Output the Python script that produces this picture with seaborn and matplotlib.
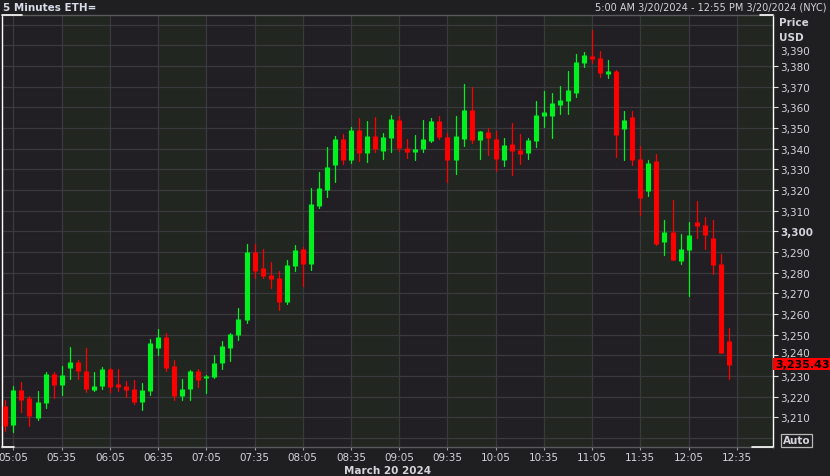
import numpy as np
import pandas as pd
import matplotlib
matplotlib.use("Agg")
import matplotlib.pyplot as plt
import matplotlib.transforms as mtransforms
import seaborn as sns
from matplotlib.patches import Rectangle
from matplotlib.lines import Line2D

# ---- data (5-minute candles, 05:00 .. 12:30) ----
opens = [3215.5, 3206.4, 3223.2, 3219.4, 3209.8, 3217.0, 3230.9, 3225.8, 3233.6, 3236.7,
         3232.4, 3223.3, 3225.2, 3233.4, 3226.1, 3225.2, 3223.7, 3217.6, 3222.9, 3243.7,
         3248.9, 3234.9, 3220.5, 3223.7, 3232.4, 3229.0, 3229.5, 3236.3, 3243.5, 3249.8,
         3257.1, 3290.0, 3282.2, 3278.9, 3277.4, 3265.8, 3283.2, 3291.5, 3284.2, 3312.3,
         3320.0, 3332.2, 3344.7, 3334.5, 3349.1, 3337.9, 3346.1, 3338.8, 3345.1, 3353.9,
         3340.3, 3338.4, 3339.8, 3343.7, 3353.4, 3345.6, 3334.5, 3344.7, 3358.7, 3344.2,
         3348.1, 3344.7, 3334.5, 3342.3, 3339.3, 3337.9, 3343.7, 3355.8, 3355.8, 3361.1,
         3363.1, 3366.9, 3381.6, 3384.9, 3383.9, 3376.2, 3377.5, 3349.7, 3355.5, 3335.0,
         3319.6, 3334.0, 3295.0, 3299.6, 3285.7, 3291.1, 3304.5, 3303.1, 3296.8, 3284.2,
         3246.9]
highs = [3218.5, 3225.3, 3227.3, 3220.2, 3222.5, 3231.9, 3231.9, 3234.9, 3244.0, 3237.7,
         3243.5, 3231.9, 3234.4, 3233.9, 3233.4, 3227.6, 3228.1, 3226.6, 3247.9, 3252.8,
         3250.8, 3237.7, 3228.6, 3232.8, 3233.4, 3230.5, 3240.2, 3247.0, 3251.0, 3262.9,
         3293.7, 3294.0, 3291.5, 3285.2, 3280.9, 3286.2, 3293.4, 3292.5, 3320.9, 3328.7,
         3340.8, 3346.1, 3347.1, 3350.5, 3354.8, 3353.4, 3355.3, 3347.6, 3356.3, 3355.8,
         3344.7, 3346.6, 3353.9, 3354.8, 3355.8, 3347.6, 3355.8, 3371.3, 3369.9, 3348.6,
         3350.0, 3348.6, 3345.1, 3352.4, 3347.1, 3345.1, 3363.1, 3367.9, 3366.9, 3370.4,
         3377.5, 3385.6, 3387.0, 3397.2, 3387.3, 3382.9, 3378.2, 3358.3, 3358.2, 3341.1,
         3334.5, 3337.4, 3305.4, 3315.2, 3298.6, 3304.5, 3314.7, 3307.0, 3305.4, 3289.0,
         3253.3]
lows = [3203.5, 3203.0, 3212.7, 3205.9, 3208.9, 3214.7, 3219.5, 3221.0, 3228.7, 3228.7,
        3222.0, 3222.5, 3223.8, 3222.0, 3222.9, 3220.0, 3216.2, 3213.7, 3221.0, 3240.2,
        3232.6, 3218.5, 3218.4, 3218.4, 3224.8, 3221.8, 3229.0, 3233.4, 3237.2, 3247.5,
        3255.6, 3277.4, 3277.4, 3272.6, 3261.9, 3264.8, 3280.9, 3273.3, 3281.4, 3311.3,
        3316.6, 3323.9, 3332.5, 3333.0, 3334.0, 3333.5, 3338.4, 3335.0, 3338.4, 3338.8,
        3335.5, 3334.5, 3338.4, 3343.3, 3344.7, 3323.9, 3327.7, 3341.3, 3342.8, 3335.0,
        3337.0, 3329.2, 3331.7, 3327.2, 3332.5, 3335.0, 3340.8, 3350.5, 3345.1, 3356.8,
        3356.8, 3365.1, 3379.7, 3381.6, 3374.7, 3374.3, 3336.0, 3334.7, 3332.2, 3308.0,
        3317.3, 3293.5, 3288.7, 3286.2, 3284.4, 3268.8, 3296.9, 3291.6, 3279.5, 3241.2,
        3228.6]
closes = [3205.9, 3223.2, 3218.5, 3210.8, 3217.4, 3230.9, 3225.8, 3230.5, 3236.7, 3232.6,
          3223.8, 3225.2, 3233.4, 3224.8, 3224.8, 3223.3, 3217.6, 3223.2, 3246.0, 3248.9,
          3233.6, 3220.5, 3223.7, 3232.4, 3227.8, 3230.0, 3236.3, 3244.5, 3250.3, 3257.6,
          3290.0, 3280.9, 3278.4, 3276.9, 3265.8, 3283.7, 3291.0, 3284.2, 3313.3, 3320.9,
          3331.2, 3344.7, 3334.5, 3349.1, 3337.9, 3346.1, 3339.8, 3345.6, 3354.4, 3340.3,
          3338.4, 3339.8, 3344.7, 3353.4, 3345.6, 3334.5, 3346.1, 3358.7, 3344.2, 3348.6,
          3345.1, 3335.0, 3341.8, 3338.8, 3337.4, 3344.2, 3356.3, 3357.7, 3362.1, 3363.6,
          3368.4, 3382.0, 3385.4, 3383.6, 3376.7, 3377.5, 3346.7, 3353.9, 3334.7, 3316.3,
          3333.0, 3293.8, 3299.6, 3286.2, 3291.4, 3298.3, 3302.6, 3298.4, 3283.9, 3241.3,
          3235.43]

time_labels = ["05:05", "05:35", "06:05", "06:35", "07:05", "07:35", "08:05", "08:35",
               "09:05", "09:35", "10:05", "10:35", "11:05", "11:35", "12:05", "12:35"]
price_ticks = [3210, 3220, 3230, 3240, 3250, 3260, 3270, 3280, 3290, 3300,
               3310, 3320, 3330, 3340, 3350, 3360, 3370, 3380]
grid_levels = [3200, 3210, 3220, 3230, 3240, 3250, 3260, 3270, 3280, 3290, 3300,
               3310, 3320, 3330, 3340, 3350, 3360, 3370, 3380, 3390, 3400]
last_price = 3235.43

# ---- styling ----
sns.set_theme(style="dark")
plt.rcParams["font.family"] = ["DejaVu Sans"]
BG = "#1f1f21"
DARK_BAND = "#211f24"
GREEN_BAND = "#212621"
GRID = "#3a3a3d"
TXT = "#d4d4dc"
UP = "#00f020"
DOWN = "#ff0000"

W, H = 830, 477
fig = plt.figure(figsize=(W / 100, H / 100), dpi=100, facecolor=BG)
ax = fig.add_axes([2 / W, 1 - 448 / H, 771 / W, 432 / H])
ax.set_facecolor(DARK_BAND)

n = len(opens)
idx = np.arange(n)
o = np.array(opens); c = np.array(closes)
direction = np.where(c >= o, "up", "down")

wick_df = pd.DataFrame({
    "t": np.repeat(idx, 2),
    "price": np.column_stack([lows, highs]).ravel(),
    "candle": np.repeat(idx, 2),
    "dir": np.repeat(direction, 2),
})
body_df = pd.DataFrame({
    "t": np.repeat(idx, 2),
    "price": np.column_stack([opens, closes]).ravel(),
    "candle": np.repeat(idx, 2),
    "dir": np.repeat(direction, 2),
})

# alternating background bands
tick_pos = [1 + 6 * k for k in range(len(time_labels))]
for k in range(1, len(tick_pos), 2):
    ax.axvspan(tick_pos[k], tick_pos[k] + 6, color=GREEN_BAND, lw=0, zorder=0)

for lv in grid_levels:
    ax.axhline(lv, color=GRID, lw=0.9, zorder=1)
for tp in tick_pos:
    ax.axvline(tp, color=GRID, lw=0.9, zorder=1)

pal = {"up": UP, "down": DOWN}
sns.lineplot(data=wick_df, x="t", y="price", units="candle", hue="dir", palette=pal,
             estimator=None, linewidth=0.9, legend=False, ax=ax, sort=False, zorder=3)
sns.lineplot(data=body_df, x="t", y="price", units="candle", hue="dir", palette=pal,
             estimator=None, linewidth=3.7, legend=False, ax=ax, sort=False,
             solid_capstyle="butt", zorder=4)

ax.set_xlim(-0.42, 95.5)
ax.set_ylim(3195.6, 3404.7)
ax.set_xlabel(""); ax.set_ylabel("")
ax.grid(False)

ax.set_xticks(tick_pos)
ax.set_xticklabels(time_labels)
ax.yaxis.tick_right()
ax.set_yticks(price_ticks)
ax.set_yticklabels([f"{v:,}" for v in price_ticks])
ax.tick_params(axis="y", which="major", right=True, left=False, direction="out",
               length=3.6, width=0.8, color="#e0e0e0", pad=1.5, labelsize=7.5,
               labelcolor=TXT)
ax.tick_params(axis="x", which="major", bottom=True, direction="out", length=2.2,
               width=0.8, color="#a0a0a0", pad=1.2, labelsize=7.5, labelcolor=TXT)
shift_up = mtransforms.ScaledTranslation(0, 3.5 / 100, fig.dpi_scale_trans)
for lab in ax.get_yticklabels():
    if lab.get_text() == "3,300":
        lab.set_fontweight("bold")
    if lab.get_text() == "3,240":
        lab.set_transform(lab.get_transform() + shift_up)

for side in ["left", "right"]:
    ax.spines[side].set_color("white"); ax.spines[side].set_linewidth(1.0)
for side in ["top", "bottom"]:
    ax.spines[side].set_color("#5a5a5c"); ax.spines[side].set_linewidth(1.0)
for side in ax.spines:
    ax.spines[side].set_visible(True)

# white corner pieces
for (x0, x1, yy) in [(0, 20 / 771, 1), (0, 12 / 771, 0), (750 / 771, 1, 0), (758 / 771, 1, 1)]:
    ax.add_line(Line2D([x0, x1], [yy, yy], transform=ax.transAxes, color="white",
                       lw=1.2, clip_on=False, zorder=6))

def fx(px):
    return px / W

def fy(py):
    return 1 - py / H

fig.text(fx(3), fy(8), "5 Minutes ETH=", color="#d8dce8", fontsize=7.5,
         fontweight="bold", va="center", ha="left")
fig.text(fx(826), fy(8), "5:00 AM 3/20/2024 - 12:55 PM 3/20/2024 (NYC)", color=TXT,
         fontsize=7, va="center", ha="right")
fig.text(fx(779), fy(23), "Price", color=TXT, fontsize=7.5, fontweight="bold",
         va="center", ha="left")
fig.text(fx(779), fy(38), "USD", color=TXT, fontsize=7.5, fontweight="bold",
         va="center", ha="left")
fig.text(fx(780), fy(52), "3,390", color=TXT, fontsize=7.5, va="center", ha="left")
fig.text(fx(388), fy(471), "March 20 2024", color=TXT, fontsize=7.5,
         fontweight="bold", va="center", ha="center")

# last price box
fig.patches.append(Rectangle((fx(773), fy(371)), 57 / W, 12 / H, transform=fig.transFigure,
                             facecolor=DOWN, edgecolor="none", figure=fig, zorder=5))
fig.text(fx(775), fy(365.5), f"{last_price:,.2f}", color="black", fontsize=8,
         fontweight="bold", va="center", ha="left", zorder=6)

# Auto button
fig.text(fx(783), fy(441.5), "Auto", color=TXT, fontsize=7.5, fontweight="bold",
         va="center", ha="left",
         bbox=dict(boxstyle="square,pad=0.15", facecolor="none", edgecolor="#b8b8b8",
                   linewidth=0.9))

fig.savefig("out.png", dpi=100, facecolor=BG)
